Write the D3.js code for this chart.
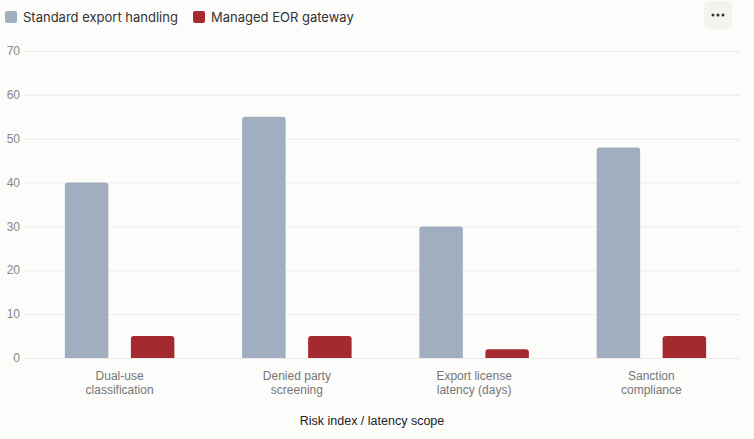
<!DOCTYPE html>
<html>
<head>
<meta charset="utf-8">
<script src="https://cdn.jsdelivr.net/npm/d3@7"></script>
<style>
  body { margin: 0; background: #fcfcfa; }
  svg { display: block; }
</style>
</head>
<body>
<svg id="chart" width="754" height="439"></svg>
<script>
var categories = [["Dual-use", "classification"], ["Denied party", "screening"], ["Export license", "latency (days)"], ["Sanction", "compliance"]];
var seriesNames = ["Standard export handling", "Managed EOR gateway"];
var standardValues = [40, 55, 30, 48];
var managedValues = [5, 5, 2, 5];
var yTicks = [0, 10, 20, 30, 40, 50, 60, 70];
var colors = ["#a0aec0", "#a52a2f"];

var svg = d3.select("#chart"),
    width = +svg.attr("width"),
    height = +svg.attr("height");

svg.append("rect").attr("width", width).attr("height", height).attr("fill", "#fcfcfa");

var keys = categories.map(function(c) { return c.join(" "); });

var x = d3.scaleBand().domain(keys).range([31, 740]);
var y = d3.scaleLinear().domain([0, 70]).range([358, 51]);

// grid
svg.append("g").selectAll("line")
    .data(yTicks)
    .enter().append("line")
    .attr("x1", 24).attr("x2", 740)
    .attr("y1", function(d) { return y(d) + 0.5; })
    .attr("y2", function(d) { return y(d) + 0.5; })
    .attr("stroke", "#ecebe8")
    .attr("stroke-width", 1);

// y labels
svg.append("g").selectAll("text")
    .data(yTicks)
    .enter().append("text")
    .attr("x", 20)
    .attr("y", function(d) { return y(d); })
    .attr("dy", "0.35em")
    .attr("text-anchor", "end")
    .attr("font-family", "Liberation Sans, Arial, sans-serif")
    .attr("font-size", 12)
    .attr("fill", "#888")
    .text(function(d) { return d; });

var barW = 43.5, gap = 22.5;
var series = [standardValues, managedValues];

function topRounded(x0, y0, w, h, r) {
    r = Math.min(r, h, w / 2);
    return "M" + x0 + "," + (y0 + h) +
        "V" + (y0 + r) +
        "Q" + x0 + "," + y0 + " " + (x0 + r) + "," + y0 +
        "H" + (x0 + w - r) +
        "Q" + (x0 + w) + "," + y0 + " " + (x0 + w) + "," + (y0 + r) +
        "V" + (y0 + h) + "Z";
}

series.forEach(function(vals, si) {
    svg.append("g").selectAll("path")
        .data(vals)
        .enter().append("path")
        .attr("fill", colors[si])
        .attr("d", function(d, i) {
            var cx = x(keys[i]) + x.bandwidth() / 2;
            var x0 = si === 0 ? cx - gap / 2 - barW : cx + gap / 2;
            return topRounded(x0, y(d), barW, y(0) - y(d), 3);
        });
});

// category labels
var catG = svg.append("g").selectAll("text")
    .data(categories)
    .enter().append("text")
    .attr("text-anchor", "middle")
    .attr("font-family", "Liberation Sans, Arial, sans-serif")
    .attr("font-size", 12)
    .attr("fill", "#777");
catG.each(function(d, i) {
    var t = d3.select(this);
    var cx = x(keys[i]) + x.bandwidth() / 2;
    d.forEach(function(line, li) {
        t.append("tspan").attr("x", cx).attr("y", 380 + li * 14).text(line);
    });
});

// axis title
svg.append("text")
    .attr("x", 372).attr("y", 425)
    .attr("text-anchor", "middle")
    .attr("font-family", "Liberation Sans, Arial, sans-serif")
    .attr("font-size", 12.5)
    .attr("fill", "#222")
    .text("Risk index / latency scope");

// legend
var legendX = [5, 193];
seriesNames.forEach(function(name, i) {
    svg.append("rect")
        .attr("x", legendX[i]).attr("y", 11)
        .attr("width", 12).attr("height", 12)
        .attr("rx", 2)
        .attr("fill", colors[i]);
    svg.append("text")
        .attr("x", legendX[i] + 18).attr("y", 22)
        .attr("font-family", "Inter, sans-serif")
        .attr("font-size", 13)
        .attr("fill", "#333")
        .text(name);
});

// menu button
svg.append("rect")
    .attr("x", 704).attr("y", 1)
    .attr("width", 28).attr("height", 28)
    .attr("rx", 5)
    .attr("fill", "#f4f3ef");
svg.append("g").selectAll("circle")
    .data([-5, 0, 5])
    .enter().append("circle")
    .attr("cx", function(d) { return 718 + d; })
    .attr("cy", 15)
    .attr("r", 1.5)
    .attr("fill", "#333");
</script>
</body>
</html>
